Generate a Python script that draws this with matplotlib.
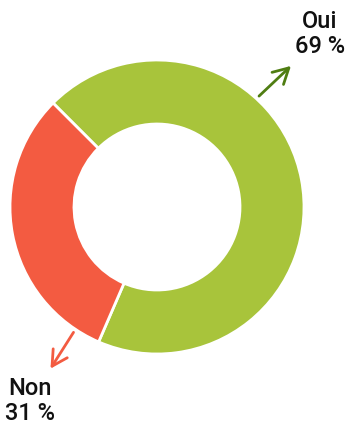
import matplotlib.pyplot as plt

# answer shares
labels = ["Oui", "Non"]
shares = [69, 31]
colors = ["#a8c43b", "#f35b41"]
arrow_colors = ["#4f7d12", "#f35b41"]

plt.rcParams['font.family'] = ['Roboto', 'DejaVu Sans']

fig = plt.figure(figsize=(3.52, 4.25), dpi=100)
ax = fig.add_axes([0, 0, 1, 1])

r = 147.0  # outer radius in pixels
ax.pie(shares, colors=colors, startangle=135, counterclock=False,
       radius=1, wedgeprops=dict(width=64 / r, edgecolor="white", linewidth=2))

# map the axes so one data unit = outer radius, centre at (157, 207) px from top-left
ax.set_xlim(-157 / r, (352 - 157) / r)
ax.set_ylim(-(425 - 207) / r, 207 / r)
ax.set_aspect('equal', adjustable='box')
ax.axis('off')

def px(x, y):
    return ((x - 157) / r, (207 - y) / r)

# labels with arrows
head = "->,head_length=1.1,head_width=0.6"
ax.annotate("", xy=px(293, 64), xytext=px(257, 98),
            arrowprops=dict(arrowstyle=head, color=arrow_colors[0], lw=2))
ax.annotate("", xy=px(49, 371), xytext=px(75, 330),
            arrowprops=dict(arrowstyle=head, color=arrow_colors[1], lw=2))

ax.text(*px(320, 34), f"{labels[0]}\n{shares[0]} %", ha="center", va="center",
        fontsize=17, fontweight="medium", color="#111111", linespacing=1.1)
ax.text(*px(30, 401), f"{labels[1]}\n{shares[1]} %", ha="center", va="center",
        fontsize=17, fontweight="medium", color="#111111", linespacing=1.1)

fig.savefig("out.png", dpi=100)
